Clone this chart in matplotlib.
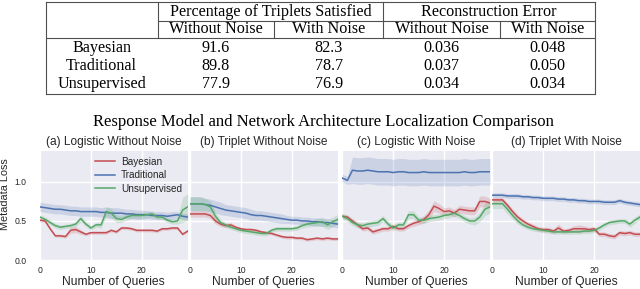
import numpy as np
import matplotlib
matplotlib.use("Agg")
import matplotlib.pyplot as plt
from matplotlib.lines import Line2D

# ---------------- data ----------------
row_labels = ["Bayesian", "Traditional", "Unsupervised"]
group_headers = ["Percentage of Triplets Satisfied", "Reconstruction Error"]
sub_headers = ["Without Noise", "With Noise", "Without Noise", "With Noise"]
table_values = [
    ["91.6", "82.3", "0.036", "0.048"],
    ["89.8", "78.7", "0.037", "0.050"],
    ["77.9", "76.9", "0.034", "0.034"],
]

suptitle = "Response Model and Network Architecture Localization Comparison"
panel_titles = ["(a) Logistic Without Noise", "(b) Triplet Without Noise",
                "(c) Logistic With Noise", "(d) Triplet With Noise"]
series_names = ["Bayesian", "Traditional", "Unsupervised"]
queries = list(range(30))
x_ticks = [0, 10, 20]
y_ticks = [0.0, 0.5, 1.0]

# (a) Logistic Without Noise
a_bayes = [0.51, 0.50, 0.40, 0.31, 0.31, 0.30, 0.38, 0.39, 0.36, 0.33, 0.35, 0.35, 0.35, 0.35, 0.38,
           0.36, 0.41, 0.41, 0.40, 0.38, 0.38, 0.38, 0.38, 0.37, 0.40, 0.40, 0.41, 0.41, 0.33, 0.37]
a_trad = [0.68, 0.67, 0.66, 0.65, 0.65, 0.64, 0.63, 0.63, 0.62, 0.62, 0.62, 0.62, 0.61, 0.61, 0.60,
          0.60, 0.60, 0.59, 0.59, 0.58, 0.58, 0.58, 0.57, 0.57, 0.57, 0.56, 0.57, 0.58, 0.56, 0.55]
a_unsup = [0.55, 0.52, 0.48, 0.44, 0.42, 0.43, 0.44, 0.46, 0.53, 0.46, 0.41, 0.45, 0.45, 0.62, 0.60,
           0.53, 0.52, 0.55, 0.57, 0.57, 0.57, 0.58, 0.59, 0.55, 0.55, 0.51, 0.49, 0.50, 0.64, 0.68]
a_bayes_ci = [0.02, 0.02, 0.02, 0.02, 0.02, 0.02, 0.04, 0.04, 0.03, 0.02, 0.02, 0.02, 0.02, 0.02, 0.02,
              0.02, 0.02, 0.02, 0.02, 0.02, 0.02, 0.02, 0.02, 0.02, 0.02, 0.02, 0.02, 0.02, 0.02, 0.02]
a_trad_ci = [0.06, 0.06, 0.06, 0.06, 0.06, 0.06, 0.06, 0.06, 0.06, 0.06, 0.06, 0.06, 0.06, 0.07, 0.07,
             0.07, 0.06, 0.06, 0.06, 0.06, 0.06, 0.05, 0.05, 0.05, 0.05, 0.05, 0.05, 0.04, 0.04, 0.04]
a_unsup_ci = [0.03, 0.03, 0.03, 0.03, 0.03, 0.03, 0.03, 0.03, 0.04, 0.03, 0.03, 0.03, 0.04, 0.06, 0.06,
              0.05, 0.04, 0.04, 0.04, 0.04, 0.04, 0.04, 0.04, 0.03, 0.03, 0.03, 0.03, 0.04, 0.16, 0.17]

# (b) Triplet Without Noise
b_bayes = [0.59, 0.59, 0.59, 0.59, 0.57, 0.50, 0.46, 0.44, 0.45, 0.42, 0.40, 0.39, 0.39, 0.38, 0.36,
           0.35, 0.34, 0.32, 0.30, 0.29, 0.29, 0.28, 0.28, 0.26, 0.27, 0.28, 0.27, 0.28, 0.27, 0.27]
b_trad = [0.72, 0.72, 0.72, 0.71, 0.70, 0.68, 0.66, 0.64, 0.63, 0.62, 0.61, 0.60, 0.58, 0.57, 0.57,
          0.56, 0.55, 0.54, 0.53, 0.52, 0.51, 0.51, 0.50, 0.50, 0.49, 0.49, 0.48, 0.48, 0.47, 0.46]
b_unsup = [0.72, 0.72, 0.72, 0.71, 0.68, 0.56, 0.48, 0.45, 0.42, 0.40, 0.38, 0.37, 0.36, 0.35, 0.34,
           0.34, 0.38, 0.40, 0.40, 0.40, 0.40, 0.41, 0.44, 0.46, 0.47, 0.48, 0.49, 0.45, 0.49, 0.52]
b_bayes_ci = [0.04, 0.04, 0.04, 0.04, 0.04, 0.04, 0.03, 0.03, 0.03, 0.02, 0.02, 0.02, 0.02, 0.02, 0.02,
              0.02, 0.02, 0.02, 0.02, 0.02, 0.02, 0.02, 0.02, 0.02, 0.02, 0.02, 0.02, 0.02, 0.02, 0.02]
b_trad_ci = [0.09, 0.09, 0.09, 0.08, 0.08, 0.08, 0.08, 0.07, 0.07, 0.07, 0.07, 0.07, 0.07, 0.06, 0.06,
             0.06, 0.06, 0.06, 0.06, 0.05, 0.05, 0.05, 0.05, 0.05, 0.05, 0.05, 0.05, 0.05, 0.05, 0.05]
b_unsup_ci = [0.09, 0.09, 0.09, 0.08, 0.07, 0.05, 0.04, 0.03, 0.03, 0.03, 0.03, 0.03, 0.03, 0.03, 0.03,
              0.03, 0.03, 0.03, 0.03, 0.03, 0.03, 0.03, 0.03, 0.04, 0.04, 0.05, 0.06, 0.06, 0.06, 0.06]

# (c) Logistic With Noise
c_bayes = [0.56, 0.55, 0.50, 0.45, 0.40, 0.41, 0.36, 0.38, 0.40, 0.40, 0.43, 0.40, 0.40, 0.44, 0.47,
           0.49, 0.52, 0.58, 0.69, 0.66, 0.62, 0.63, 0.60, 0.65, 0.64, 0.63, 0.63, 0.75, 0.75, 0.73]
c_trad = [1.05, 1.02, 1.15, 1.14, 1.14, 1.15, 1.14, 1.13, 1.13, 1.13, 1.12, 1.13, 1.13, 1.12, 1.12,
          1.12, 1.13, 1.12, 1.12, 1.12, 1.12, 1.12, 1.12, 1.12, 1.13, 1.12, 1.12, 1.13, 1.13, 1.13]
c_unsup = [0.56, 0.53, 0.48, 0.45, 0.44, 0.46, 0.47, 0.48, 0.53, 0.46, 0.41, 0.45, 0.45, 0.58, 0.58,
           0.51, 0.51, 0.53, 0.54, 0.55, 0.57, 0.58, 0.60, 0.57, 0.53, 0.50, 0.50, 0.55, 0.65, 0.68]
c_bayes_ci = [0.03, 0.03, 0.03, 0.03, 0.03, 0.03, 0.03, 0.03, 0.03, 0.03, 0.03, 0.03, 0.03, 0.03, 0.04,
              0.04, 0.05, 0.06, 0.07, 0.06, 0.05, 0.05, 0.05, 0.05, 0.05, 0.05, 0.05, 0.07, 0.07, 0.06]
c_trad_ci = [0.05, 0.05, 0.17, 0.17, 0.17, 0.17, 0.17, 0.17, 0.17, 0.17, 0.17, 0.17, 0.17, 0.17, 0.17,
             0.17, 0.17, 0.17, 0.17, 0.17, 0.17, 0.17, 0.17, 0.17, 0.17, 0.17, 0.17, 0.17, 0.17, 0.17]
c_unsup_ci = [0.04, 0.04, 0.04, 0.04, 0.04, 0.04, 0.04, 0.04, 0.04, 0.04, 0.04, 0.04, 0.04, 0.05, 0.05,
              0.04, 0.04, 0.04, 0.04, 0.04, 0.04, 0.04, 0.04, 0.04, 0.04, 0.04, 0.05, 0.06, 0.08, 0.08]

# (d) Triplet With Noise
d_bayes = [0.77, 0.77, 0.77, 0.70, 0.62, 0.55, 0.50, 0.46, 0.43, 0.40, 0.39, 0.39, 0.37, 0.41, 0.37,
           0.38, 0.40, 0.40, 0.40, 0.39, 0.40, 0.33, 0.33, 0.31, 0.30, 0.35, 0.34, 0.35, 0.33, 0.33]
d_trad = [0.83, 0.83, 0.83, 0.82, 0.82, 0.82, 0.81, 0.81, 0.80, 0.80, 0.79, 0.79, 0.79, 0.78, 0.78,
          0.77, 0.77, 0.76, 0.76, 0.75, 0.75, 0.75, 0.74, 0.74, 0.74, 0.76, 0.74, 0.73, 0.72, 0.71]
d_unsup = [0.72, 0.72, 0.72, 0.65, 0.57, 0.50, 0.45, 0.42, 0.40, 0.39, 0.38, 0.37, 0.36, 0.36, 0.36,
           0.36, 0.36, 0.36, 0.37, 0.37, 0.38, 0.41, 0.45, 0.48, 0.49, 0.50, 0.50, 0.46, 0.51, 0.55]
d_bayes_ci = [0.03, 0.03, 0.03, 0.03, 0.03, 0.03, 0.03, 0.03, 0.03, 0.03, 0.03, 0.03, 0.03, 0.05, 0.03,
              0.03, 0.04, 0.05, 0.04, 0.03, 0.03, 0.03, 0.03, 0.03, 0.03, 0.03, 0.03, 0.03, 0.03, 0.03]
d_trad_ci = [0.03, 0.03, 0.03, 0.03, 0.03, 0.03, 0.03, 0.03, 0.03, 0.03, 0.03, 0.03, 0.03, 0.03, 0.03,
             0.03, 0.03, 0.03, 0.03, 0.03, 0.03, 0.03, 0.03, 0.03, 0.03, 0.03, 0.03, 0.03, 0.03, 0.03]
d_unsup_ci = [0.06, 0.06, 0.06, 0.06, 0.05, 0.04, 0.03, 0.03, 0.03, 0.03, 0.03, 0.03, 0.03, 0.03, 0.03,
              0.03, 0.03, 0.03, 0.03, 0.03, 0.03, 0.03, 0.03, 0.03, 0.03, 0.03, 0.03, 0.04, 0.04, 0.04]

panels = [
    (a_bayes, a_trad, a_unsup, a_bayes_ci, a_trad_ci, a_unsup_ci),
    (b_bayes, b_trad, b_unsup, b_bayes_ci, b_trad_ci, b_unsup_ci),
    (c_bayes, c_trad, c_unsup, c_bayes_ci, c_trad_ci, c_unsup_ci),
    (d_bayes, d_trad, d_unsup, d_bayes_ci, d_trad_ci, d_unsup_ci),
]

# ---------------- style ----------------
colors = ["#C44E52", "#4C72B0", "#55A868"]
SANS = ["Liberation Sans", "DejaVu Sans"]
SERIF = ["Liberation Serif", "DejaVu Serif"]
W, H = 640, 289

fig = plt.figure(figsize=(6.4, 2.89), dpi=100)
fig.patch.set_facecolor("white")


def fx(px):
    return px / W


def fy(py):
    return 1 - py / H


# ---------------- table ----------------
tl, tr, tt, tb = 45.7, 595.0, 2.0, 94.3
c1, c2, c3, c4 = 157.7, 274.3, 383.3, 500.0
h1, h2 = 20.7, 37.7
lc = "#505050"
lw = 0.8


def hline(y, x0, x1):
    fig.add_artist(Line2D([fx(x0), fx(x1)], [fy(y), fy(y)], color=lc, lw=lw))


def vline(x, y0, y1):
    fig.add_artist(Line2D([fx(x), fx(x)], [fy(y0), fy(y1)], color=lc, lw=lw))


hline(tt, tl, tr)
hline(tb, tl, tr)
hline(h1, c1, tr)
hline(h2, tl, tr)
vline(tl, tt, tb)
vline(tr, tt, tb)
vline(c1, tt, h2)
vline(c3, tt, h2)
vline(c2, h1, h2)
vline(c4, h1, h2)

tfs = 11.6
group_centers = [(c1 + c3) / 2, (c3 + tr) / 2]
col_centers = [(c1 + c2) / 2, (c2 + c3) / 2, (c3 + c4) / 2, (c4 + tr) / 2]
label_center = (tl + c1) / 2
for gx, g in zip(group_centers, group_headers):
    fig.text(fx(gx), fy(15.5), g, ha="center", va="baseline", fontsize=tfs, family=SERIF)
for cx, s in zip(col_centers, sub_headers):
    fig.text(fx(cx), fy(33.2), s, ha="center", va="baseline", fontsize=tfs, family=SERIF)
row_base = [52.3, 70.0, 87.8]
for rb, lab, vals in zip(row_base, row_labels, table_values):
    fig.text(fx(label_center), fy(rb), lab, ha="center", va="baseline", fontsize=tfs, family=SERIF)
    for cx, v in zip(col_centers, vals):
        fig.text(fx(cx), fy(rb), v, ha="center", va="baseline", fontsize=tfs, family=SERIF)

# ---------------- plots ----------------
fig.text(fx(323), fy(125.5), suptitle, ha="center", va="baseline", fontsize=12, family=SERIF)

lefts = [40.0, 190.0, 342.3, 492.3]
ax_w = 147.7
ax_top, ax_bot = 150.7, 260.0
axes = []
for i, (left, title, data) in enumerate(zip(lefts, panel_titles, panels)):
    ax = fig.add_axes([fx(left), fy(ax_bot), ax_w / W, (ax_bot - ax_top) / H])
    ax.set_facecolor("#EAEAF2")
    for sp in ax.spines.values():
        sp.set_visible(False)
    ax.grid(True, color="white", lw=1.0)
    ax.set_axisbelow(True)
    means = data[:3]
    cis = data[3:]
    for name, m, ci, col in zip(series_names, means, cis, colors):
        m = np.asarray(m)
        ci = np.asarray(ci)
        ax.fill_between(queries, m - ci, m + ci, color=col, alpha=0.2, lw=0)
        ax.plot(queries, m, color=col, lw=1.1, label=name)
    ax.set_xlim(0, 29)
    ax.set_ylim(0, 1.4)
    ax.set_xticks(x_ticks)
    ax.set_yticks(y_ticks)
    ax.tick_params(length=0, labelsize=6.2, labelcolor="#262626")
    ax.tick_params(axis="x", pad=4)
    ax.tick_params(axis="y", pad=9.5)
    for lab in ax.get_xticklabels() + ax.get_yticklabels():
        lab.set_family(SANS)
    if i > 0:
        ax.set_yticklabels([])
    else:
        ax.set_yticklabels([f"{v:.1f}" for v in y_ticks])
    ax.set_xlabel("Number of Queries", fontsize=8.7, family=SANS, color="#262626", labelpad=1.2)
    ax.set_title(title, fontsize=8.6, family=SANS, color="#262626", pad=4)
    axes.append(ax)

fig.text(fx(5.5), fy(194), "Metadata Loss", rotation=90, ha="center", va="center",
         fontsize=7.8, family=SANS, color="#262626")

leg = axes[0].legend(loc="upper left", bbox_to_anchor=(0.372, 0.945), frameon=False,
                     prop={"family": SANS, "size": 7.2}, handlelength=2.0,
                     handletextpad=0.6, labelspacing=0.35, borderaxespad=0, borderpad=0)
for t in leg.get_texts():
    t.set_color("#262626")

fig.savefig("out.png", dpi=100)
